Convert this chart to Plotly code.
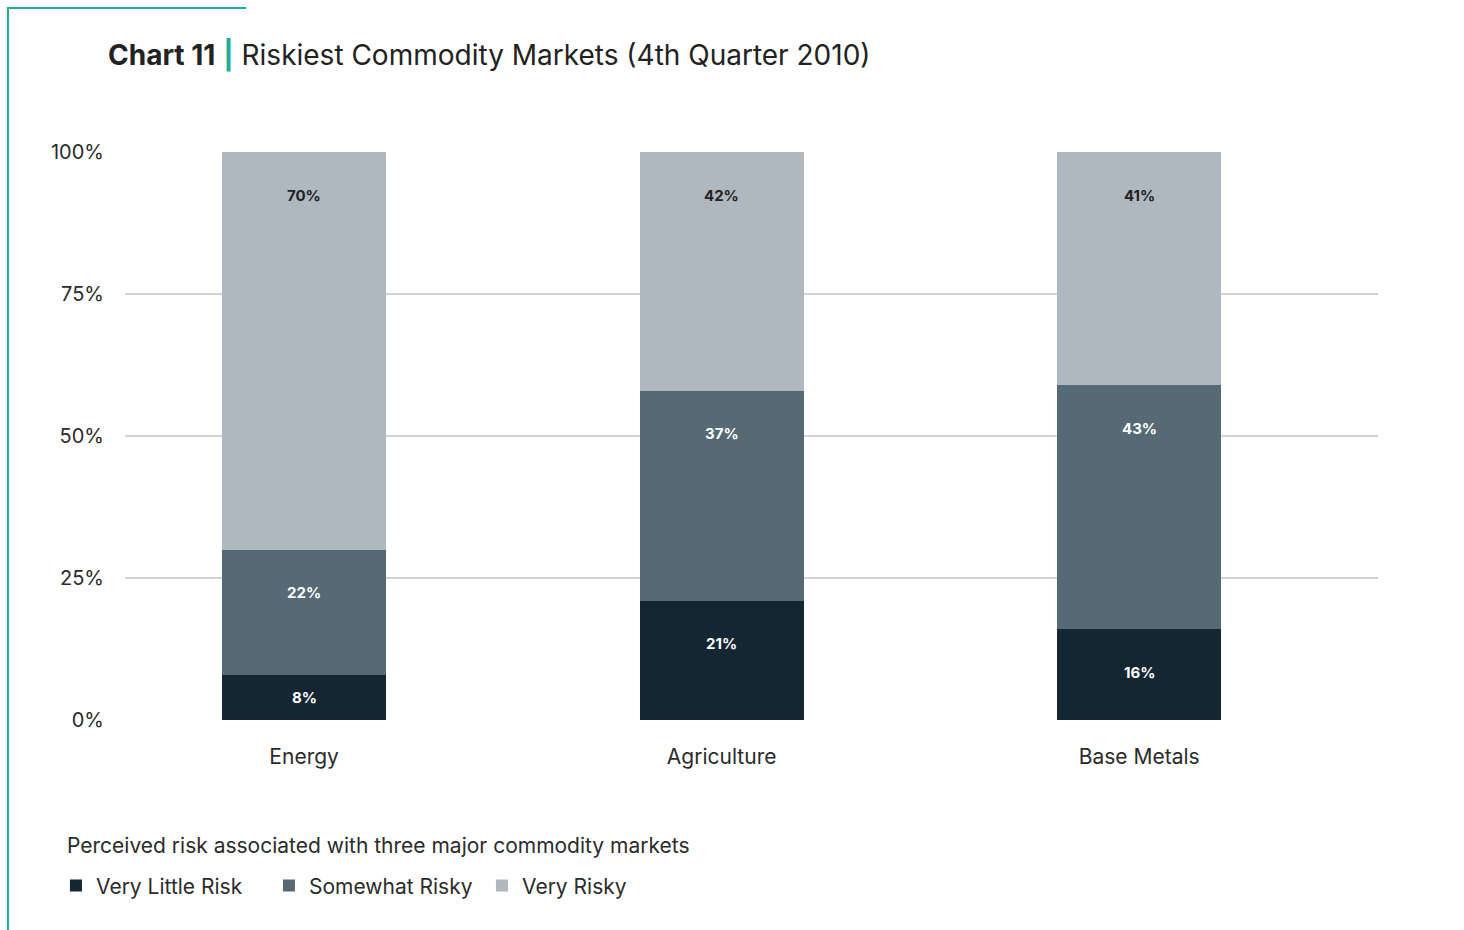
import plotly.graph_objects as go

# Survey shares (%) per commodity market
categories = ["Energy", "Agriculture", "Base Metals"]
very_little_risk = [8, 21, 16]
somewhat_risky = [22, 37, 43]
very_risky = [70, 42, 41]

series_names = ["Very Little Risk", "Somewhat Risky", "Very Risky"]
y_ticks = [0, 25, 50, 75, 100]

FONT = "Inter, 'Noto Sans', sans-serif"
TEXT = "#2b2b2b"
TEAL = "#1fae99"
colors = ["#142632", "#566a75", "#afb7bf"]
label_colors = ["#ffffff", "#ffffff", "#222222"]

series = [very_little_risk, somewhat_risky, very_risky]

fig = go.Figure()
for name, vals, col in zip(series_names, series, colors):
    fig.add_trace(go.Bar(
        x=categories, y=vals, name=name,
        marker=dict(color=col, line=dict(width=0)),
        width=0.393,
    ))

# Value labels near the top of each stacked segment (centred if the segment is short)
LABEL_DROP = 7.6
annotations = []
for i, cat in enumerate(categories):
    base = 0
    for vals, lc in zip(series, label_colors):
        top = base + vals[i]
        y_lab = max(top - LABEL_DROP, base + vals[i] / 2)
        annotations.append(dict(
            x=cat, y=y_lab, xref="x", yref="y",
            text=f"<b>{vals[i]}%</b>", showarrow=False,
            yanchor="middle",
            font=dict(family=FONT, size=15, color=lc),
        ))
        base = top

annotations.append(dict(
    text="Perceived risk associated with three major commodity markets",
    xref="paper", yref="paper", x=-0.0479, y=-0.2218,
    xanchor="left", yanchor="middle", showarrow=False,
    font=dict(family=FONT, size=21, color=TEXT),
))

shapes = [
    dict(type="line", xref="paper", yref="paper",
         x0=-0.0934, x1=-0.0934, y0=1.2535, y1=-0.37,
         line=dict(color=TEAL, width=2)),
    dict(type="line", xref="paper", yref="paper",
         x0=-0.0942, x1=0.0966, y0=1.2535, y1=1.2535,
         line=dict(color=TEAL, width=2)),
]

fig.update_layout(
    width=1464, height=930,
    barmode="stack",
    paper_bgcolor="white", plot_bgcolor="white",
    margin=dict(l=125, r=86, t=152, b=210),
    font=dict(family=FONT, color=TEXT),
    title=dict(
        text=("<b>Chart 11</b> <b><span style='color:%s'>|</span></b> "
              "Riskiest Commodity Markets (4th Quarter 2010)") % TEAL,
        xref="container", yref="container",
        x=108 / 1464, y=1 - 55 / 930,
        xanchor="left", yanchor="middle",
        font=dict(family=FONT, size=28, color="#222222"),
    ),
    xaxis=dict(
        range=[-0.429, 2.572], showgrid=False, showline=False,
        ticks="", ticklabelstandoff=22,
        tickfont=dict(family=FONT, size=21, color=TEXT),
    ),
    yaxis=dict(
        range=[0, 100], tickvals=y_ticks,
        ticktext=[f"{v}%" for v in y_ticks],
        showgrid=True, gridcolor="#d3d3d3", gridwidth=2,
        zeroline=False, showline=False, ticks="",
        ticklabelstandoff=20,
        tickfont=dict(family=FONT, size=20, color=TEXT),
    ),
    legend=dict(
        orientation="h", x=-0.0551, y=-0.2922,
        xanchor="left", yanchor="middle",
        traceorder="normal",
        font=dict(family=FONT, size=21, color=TEXT),
        entrywidth=168, itemclick=False,
        bgcolor="rgba(0,0,0,0)",
    ),
    annotations=annotations,
    shapes=shapes,
    showlegend=True,
)

fig.write_html("out.html")
